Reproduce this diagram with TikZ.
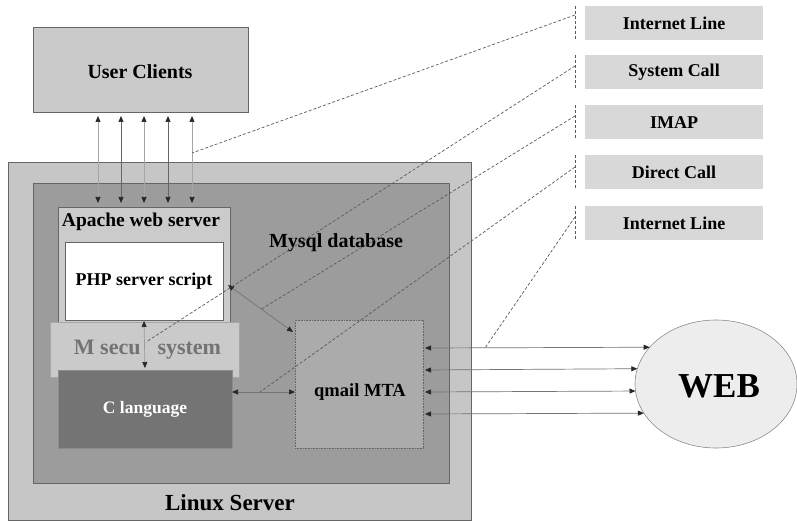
\documentclass[tikz,border=0pt]{standalone}
\usepackage{fontspec}
\setmainfont{Liberation Serif}
\usetikzlibrary{arrows.meta,shapes.geometric}
\definecolor{cLinux}{HTML}{C6C6C6}
\definecolor{cMysql}{HTML}{9C9C9C}
\definecolor{cApache}{HTML}{CBCBCB}
\definecolor{cMsecu}{HTML}{CACACA}
\definecolor{cClang}{HTML}{747474}
\definecolor{cQmail}{HTML}{ABABAB}
\definecolor{cUser}{HTML}{CACACA}
\definecolor{cLegend}{HTML}{D8D8D8}
\definecolor{cWeb}{HTML}{EDEDED}
\begin{document}
\begin{tikzpicture}[x=1pt,y=-1pt,
  box/.style={draw=black!60, line width=0.6pt, inner sep=0pt, outer sep=0pt},
  fs/.style={font=\bfseries\fontsize{#1}{#1}\selectfont, inner sep=0pt},
  tip/.tip={Triangle[length=6pt,width=5pt,color=black!85]},
  bi/.style={tip-tip, line width=0.7pt, draw=black!55},
  lead/.style={draw=black!65, line width=0.7pt, dash pattern=on 3pt off 2pt},
  legendbox/.style={fill=cLegend, minimum width=178pt, minimum height=34pt, inner sep=0pt, outer sep=0pt, font=\bfseries\fontsize{18}{18}\selectfont},
]
\useasboundingbox (0,0) rectangle (797,521);

% main containers
\node[box, fill=cLinux, minimum width=463pt, minimum height=358pt] (linux) at (239.5,341) {};
\node[box, fill=cMysql, minimum width=416pt, minimum height=300pt] (mysql) at (241,333) {};
\node[box, fill=cApache, minimum width=172pt, minimum height=118pt] (apache) at (144,266) {};
\node[box, fill=white, minimum width=158pt, minimum height=78pt] (php) at (144,281) {};
\node[box, fill=cMsecu, draw=black!35, minimum width=189pt, minimum height=55pt] (msecu) at (144.5,349.5) {};
\node[box, fill=cClang, draw=black!45, minimum width=174pt, minimum height=78pt] (clang) at (145,409) {};
\node[box, fill=cQmail, draw=black!60, densely dotted, minimum width=128pt, minimum height=128pt] (qmail) at (359,384) {};
\node[box, fill=cUser, minimum width=215pt, minimum height=85pt] (uc) at (140.5,69.5) {};
\node[draw=black!45, line width=0.6pt, fill=cWeb, ellipse, minimum width=162pt, minimum height=128pt, inner sep=0pt, outer sep=0pt] (web) at (716,384) {};

% labels
\node[fs=23] (linuxlbl) at (230,503) {Linux Server};
\node[fs=20] (mysqllbl) at (336,243) {Mysql database};
\node[fs=19.5] (apachelbl) at (141,222) {Apache web server};
\node[fs=18] (phplbl) at (144,281) {PHP server script};
\node[fs=22, text=black!55] (mseculbl) at (147.5,350) {M secu\hspace{17pt}system};
\node[fs=17.5, text=white] (clanglbl) at (145,409) {C language};
\node[fs=18.5] (qmaillbl) at (360,392) {qmail MTA};
\node[fs=20] (uclbl) at (140,72) {User Clients};
\node[fs=35] (weblbl) at (719,386) {WEB};

% legend
\node[legendbox] (leg1) at (674,23) {Internet Line};
\node[legendbox] (leg2) at (674,72.5) {System Call};
\node[legendbox] (leg3) at (674,122.5) {IMAP};
\node[legendbox] (leg4) at (674,172.5) {Direct Call};
\node[legendbox] (leg5) at (674,223) {Internet Line};
\foreach \i in {1,...,5}{
  \draw[lead] ([xshift=-10pt]leg\i.north west) -- ([xshift=-10pt]leg\i.south west);
}
\coordinate (s1) at (575,15);
\coordinate (s2) at (575,66);
\coordinate (s3) at (575,116);
\coordinate (s4) at (575,167);
\coordinate (s5) at (575,217);

% user client arrows
\foreach \dx/\c in {-42.5/black!35, -19.5/black!60, 3.5/black!35, 27.5/black!60, 51.5/black!35}{
  \draw[bi, draw=\c, shorten <=4pt, shorten >=4pt] ([xshift=\dx pt]uc.south) -- ([xshift=\dx pt]uc.south |- apache.north);
}

% internal arrows
\draw[bi, draw=black!40, shorten <=1pt, shorten >=2pt] (php.south) -- (clang.north);
\draw[bi] ([xshift=5pt,yshift=-4pt]php.east) -- ([xshift=-2pt,yshift=-12pt]qmail.north west);
\draw[bi] ([yshift=17pt]clang.east) -- ([yshift=17pt]clang.east -| qmail.west);

% qmail to WEB
\draw[bi, shorten <=2pt] ([yshift=36pt]qmail.east) -- (web.151.75);
\draw[bi, shorten <=2pt] ([yshift=14pt]qmail.east) -- (web.169.95);
\draw[bi, shorten <=2pt] ([yshift=-8pt]qmail.east) -- (web.185.68);
\draw[bi, shorten <=2pt] ([yshift=-30pt]qmail.east) -- (web.202.76);

% leader lines
\coordinate (e1) at (192,153);
\coordinate (e2) at (146,342);
\coordinate (e3) at (260,310);
\coordinate (e4) at (260,392);
\coordinate (e5) at (485,348);
\draw[lead] (s1) -- (e1);
\draw[lead] (s2) -- (e2);
\draw[lead] (s3) -- (e3);
\draw[lead] (s4) -- (e4);
\draw[lead] (s5) -- (e5);
\end{tikzpicture}
\end{document}
